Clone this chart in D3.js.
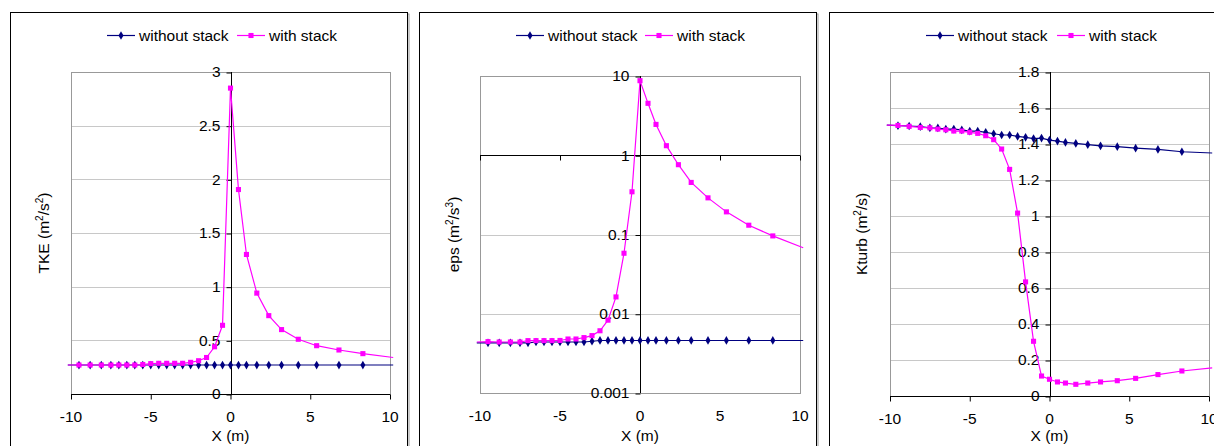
<html>
<head>
<script src="https://d3js.org/d3.v7.min.js"></script>
<style>
  body { margin: 0; background: #fff; }
  text { font-family: "Liberation Sans", Arial, sans-serif; fill: #000; }
</style>
</head>
<body>
<script>
// x positions of the sample points (first and last are the line ends, no marker)
var xs = [-10.2, -9.5, -8.8, -8.1, -7.5, -7.0, -6.5, -6.0, -5.5, -5.0, -4.5, -4.0, -3.5, -3.0,
          -2.5, -2.0, -1.5, -1.0, -0.5, 0, 0.5, 1.0, 1.65, 2.4, 3.2, 4.25, 5.4, 6.8, 8.3, 10.2];

var seriesNames = ["without stack", "with stack"];

var tkeWithout = [0.27, 0.27, 0.27, 0.27, 0.27, 0.27, 0.27, 0.27, 0.27, 0.27, 0.27, 0.27, 0.27, 0.27,
                  0.27, 0.27, 0.27, 0.27, 0.27, 0.27, 0.27, 0.27, 0.27, 0.27, 0.27, 0.27, 0.27, 0.27, 0.27, 0.27];
var tkeWith = [0.27, 0.27, 0.27, 0.27, 0.27, 0.27, 0.27, 0.27, 0.275, 0.283, 0.286, 0.286, 0.286, 0.286,
               0.295, 0.31, 0.34, 0.44, 0.64, 2.85, 1.905, 1.30, 0.94, 0.73, 0.60, 0.51, 0.45, 0.41, 0.376, 0.34];

var epsWithout = [0.0043, 0.0043, 0.0043, 0.0043, 0.0043, 0.0043, 0.0044, 0.0044, 0.0044, 0.0044, 0.0044, 0.0044, 0.0044, 0.0045,
                  0.0046, 0.0046, 0.0046, 0.0046, 0.0046, 0.0046, 0.0046, 0.0046, 0.0046, 0.0046, 0.0046, 0.0046, 0.0046, 0.0046, 0.0046, 0.0046];
var epsWith = [0.0044, 0.00445, 0.0044, 0.0044, 0.0044, 0.00458, 0.00458, 0.00458, 0.00458, 0.0046, 0.0048, 0.0048, 0.005, 0.0053,
               0.0061, 0.0083, 0.0163, 0.058, 0.346, 8.73, 4.52, 2.45, 1.32, 0.76, 0.454, 0.29, 0.193, 0.131, 0.096, 0.068];

var kWithout = [1.505, 1.502, 1.50, 1.496, 1.49, 1.489, 1.483, 1.483, 1.478, 1.472, 1.472, 1.465, 1.457, 1.45,
                1.45, 1.442, 1.437, 1.43, 1.433, 1.422, 1.416, 1.409, 1.403, 1.396, 1.39, 1.385, 1.377, 1.37, 1.357, 1.35];
var kWith = [1.505, 1.503, 1.498, 1.492, 1.49, 1.483, 1.479, 1.472, 1.472, 1.465, 1.459, 1.446, 1.424, 1.372,
             1.259, 1.016, 0.634, 0.304, 0.111, 0.093, 0.078, 0.072, 0.065, 0.072, 0.078, 0.085, 0.098, 0.119, 0.139, 0.156];

var xTicks = [-10, -5, 0, 5, 10];
var tkeTicks = [0, 0.5, 1, 1.5, 2, 2.5, 3];
var epsTicks = [0.001, 0.01, 0.1, 1, 10];
var kTicks = [0, 0.2, 0.4, 0.6, 0.8, 1, 1.2, 1.4, 1.6, 1.8];

var navy = "#000080", pink = "#ff00ff";
var fs = "15.5px";

var svg = d3.select("body").append("svg")
  .attr("width", 1214)
  .attr("height", 446);

function drawPanel(p) {
  var g = svg.append("g");

  // frame with a small shadow
  g.append("rect").attr("x", p.ox + 2).attr("y", 14).attr("width", 397).attr("height", 460)
    .attr("fill", "none").attr("stroke", "#999");
  g.append("rect").attr("x", p.ox + 0.5).attr("y", 12.5).attr("width", 397).attr("height", 460)
    .attr("fill", "#fff").attr("stroke", "#000");

  var x = d3.scaleLinear().domain([-10, 10]).range([p.left, p.right]);
  var y = p.log
    ? d3.scaleLog().domain([0.001, 10]).range([p.bottom, p.top])
    : d3.scaleLinear().domain([0, p.ymax]).range([p.bottom, p.top]);

  // grid
  g.append("g").selectAll("line").data(p.ticks).enter().append("line")
    .attr("x1", p.left).attr("x2", p.right)
    .attr("y1", function(d) { return Math.round(y(d)) + 0.5; })
    .attr("y2", function(d) { return Math.round(y(d)) + 0.5; })
    .attr("stroke", "#c8c8c8");

  // plot area border
  g.append("rect").attr("x", p.left + 0.5).attr("y", Math.round(p.top) + 0.5)
    .attr("width", p.right - p.left).attr("height", p.bottom - p.top)
    .attr("fill", "none").attr("stroke", "#999");

  // y axis at x = 0, labels on the left
  var yAxis = d3.axisLeft(y).tickValues(p.ticks).tickSize(5).tickPadding(6)
    .tickFormat(function(d) { return String(d); });
  var ya = g.append("g").attr("transform", "translate(" + (Math.round(x(0)) + 0.5) + ",0)").call(yAxis);
  ya.select(".domain").attr("d", "M0," + p.top + "V" + p.bottom).attr("stroke", "#000");
  ya.selectAll("text").style("font-size", fs).style("font-family", "Liberation Sans, Arial");
  ya.selectAll("line").attr("transform", "translate(0,0.5)");

  // horizontal axis line (crosses at 0 or 1)
  var yc = Math.round(y(p.cross)) + 0.5;
  var xa = g.append("g").attr("transform", "translate(0," + yc + ")")
    .call(d3.axisBottom(x).tickValues(xTicks).tickSize(5).tickFormat(""));
  xa.select(".domain").attr("d", "M" + p.left + ",0H" + p.right).attr("stroke", "#000");

  // x tick labels at the bottom
  g.append("g").selectAll("text").data(xTicks).enter().append("text")
    .attr("x", function(d) { return x(d); })
    .attr("y", p.bottom + 28)
    .attr("text-anchor", "middle")
    .style("font-size", fs)
    .text(function(d) { return d; });

  g.append("text").attr("x", x(0)).attr("y", 441).attr("text-anchor", "middle")
    .style("font-size", fs).text("X (m)");

  // y title
  var yt = g.append("text")
    .attr("transform", "translate(" + p.titleX + "," + ((p.top + p.bottom) / 2) + ") rotate(-90)")
    .attr("text-anchor", "middle").style("font-size", fs);
  p.title.forEach(function(part) {
    var t = yt.append("tspan").text(part[0]);
    if (part[1] === "sup") t.attr("dy", -6).style("font-size", "10px");
    if (part[1] === "down") t.attr("dy", 6);
  });

  // series
  var line = d3.line().x(function(d) { return x(d[0]); }).y(function(d) { return y(d[1]); });
  var sets = [
    { vals: p.a, color: navy, shape: d3.symbolDiamond, size: 22 },
    { vals: p.b, color: pink, shape: d3.symbolSquare, size: 26 }
  ];
  sets.forEach(function(s) {
    var pts = xs.map(function(v, i) { return [v, s.vals[i]]; });
    g.append("path").attr("d", line(pts)).attr("fill", "none").attr("stroke", s.color).attr("stroke-width", 1.2);
    g.append("g").selectAll("path").data(pts.slice(1, pts.length - 1)).enter().append("path")
      .attr("d", d3.symbol().type(s.shape).size(s.size))
      .attr("transform", function(d) { return "translate(" + x(d[0]) + "," + y(d[1]) + ")"; })
      .attr("fill", s.color);
  });

  // legend
  var lg = g.append("g").attr("transform", "translate(" + p.legendX + ",35)");
  var offs = [0, p.legendGap];
  sets.forEach(function(s, i) {
    var o = offs[i];
    lg.append("line").attr("x1", o).attr("x2", o + 28).attr("y1", 0.5).attr("y2", 0.5)
      .attr("stroke", s.color).attr("stroke-width", 1.2);
    lg.append("path").attr("d", d3.symbol().type(s.shape).size(s.size))
      .attr("transform", "translate(" + (o + 14) + ",0.5)").attr("fill", s.color);
    lg.append("text").attr("x", o + 32).attr("y", 5.5).style("font-size", fs).text(seriesNames[i]);
  });
}

drawPanel({ ox: 10, left: 71, right: 390, top: 72, bottom: 394, ymax: 3, ticks: tkeTicks, cross: 0,
  a: tkeWithout, b: tkeWith, legendX: 107, legendGap: 130, titleX: 49,
  title: [["TKE (m"], ["2", "sup"], ["/s", "down"], ["2", "sup"], [")", "down"]] });

drawPanel({ ox: 419, left: 480, right: 800, top: 76, bottom: 393, log: true, ticks: epsTicks, cross: 1,
  a: epsWithout, b: epsWith, legendX: 516, legendGap: 129, titleX: 459,
  title: [["eps (m"], ["2", "sup"], ["/s", "down"], ["3", "sup"], [")", "down"]] });

drawPanel({ ox: 829, left: 890, right: 1209, top: 72, bottom: 396, ymax: 1.8, ticks: kTicks, cross: 0,
  a: kWithout, b: kWith, legendX: 926, legendGap: 131, titleX: 867,
  title: [["Kturb (m"], ["2", "sup"], ["/s)", "down"]] });
</script>
</body>
</html>
